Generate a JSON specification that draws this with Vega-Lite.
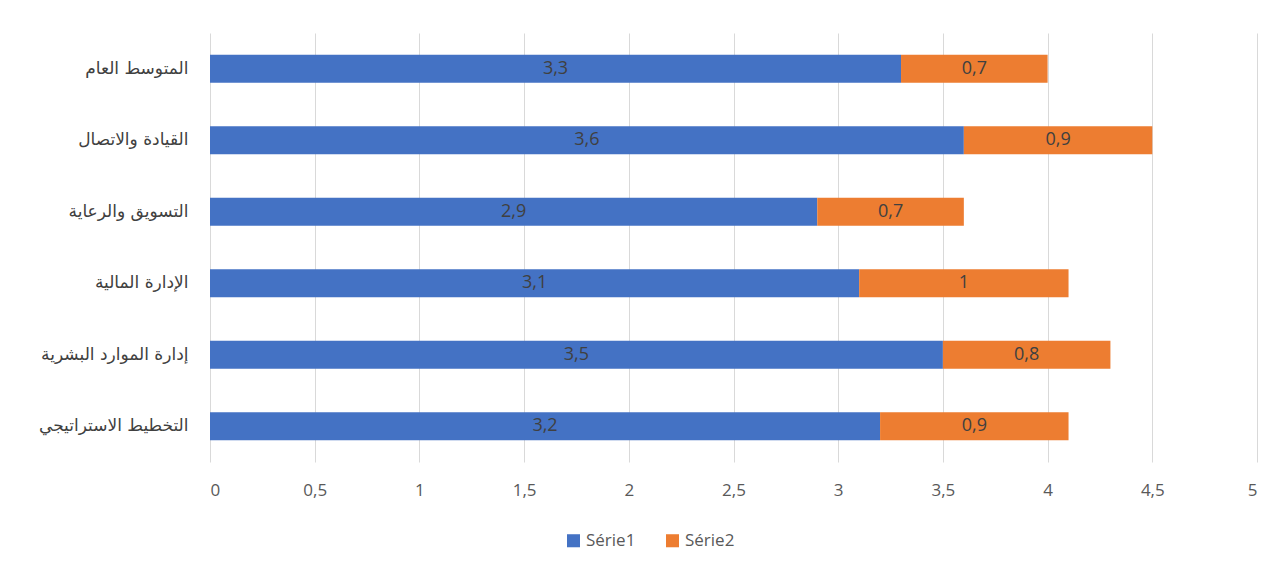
{
  "$schema": "https://vega.github.io/schema/vega-lite/v6.json",
  "autosize": "none",
  "width": 1047,
  "height": 429,
  "padding": {"left": 210, "top": 33, "right": 30, "bottom": 117},
  "background": "white",
  "config": {
    "locale": {"number": {"decimal": ",", "thousands": " ", "grouping": [3], "currency": ["", " €"]}},
    "view": {"stroke": null},
    "font": "Open Sans"
  },
  "data": {
    "values": [
      {"cat": "المتوسط العام", "series": "Série1", "v": 3.3},
      {"cat": "المتوسط العام", "series": "Série2", "v": 0.7},
      {"cat": "القيادة والاتصال", "series": "Série1", "v": 3.6},
      {"cat": "القيادة والاتصال", "series": "Série2", "v": 0.9},
      {"cat": "التسويق والرعاية", "series": "Série1", "v": 2.9},
      {"cat": "التسويق والرعاية", "series": "Série2", "v": 0.7},
      {"cat": "الإدارة المالية", "series": "Série1", "v": 3.1},
      {"cat": "الإدارة المالية", "series": "Série2", "v": 1},
      {"cat": "إدارة الموارد البشرية", "series": "Série1", "v": 3.5},
      {"cat": "إدارة الموارد البشرية", "series": "Série2", "v": 0.8},
      {"cat": "التخطيط الاستراتيجي", "series": "Série1", "v": 3.2},
      {"cat": "التخطيط الاستراتيجي", "series": "Série2", "v": 0.9}
    ]
  },
  "transform": [
    {"stack": "v", "groupby": ["cat"], "sort": [{"field": "series", "order": "ascending"}], "as": ["v0", "v1"]},
    {"calculate": "(datum.v0 + datum.v1) / 2", "as": "mid"}
  ],
  "encoding": {
    "y": {
      "field": "cat",
      "type": "nominal",
      "sort": null,
      "scale": {"paddingInner": 0.61, "paddingOuter": 0.305},
      "axis": {
        "title": null,
        "domain": false,
        "ticks": false,
        "labelFont": "DejaVu Sans",
        "labelFontSize": 17,
        "labelColor": "#404040",
        "labelPadding": 22,
        "labelLimit": 300
      }
    }
  },
  "layer": [
    {
      "mark": {"type": "bar"},
      "encoding": {
        "x": {
          "field": "v0",
          "type": "quantitative",
          "scale": {"domain": [0, 5], "nice": false},
          "axis": {
            "title": null,
            "values": [0, 0.5, 1, 1.5, 2, 2.5, 3, 3.5, 4, 4.5, 5],
            "format": "~r",
            "domain": false,
            "ticks": false,
            "grid": true,
            "gridColor": "#d9d9d9",
            "gridWidth": 1,
            "labelFontSize": 17,
            "labelColor": "#595959",
            "labelPadding": 20
          }
        },
        "x2": {"field": "v1"},
        "color": {
          "field": "series",
          "type": "nominal",
          "scale": {"domain": ["Série1", "Série2"], "range": ["#4472C4", "#ED7D31"]},
          "legend": {
            "title": null,
            "orient": "none",
            "legendX": 355,
            "legendY": 499,
            "direction": "horizontal",
            "symbolType": "square",
            "symbolSize": 170,
            "symbolStrokeWidth": 0,
            "labelFontSize": 17,
            "labelColor": "#595959",
            "columnPadding": 28
          }
        }
      }
    },
    {
      "mark": {"type": "text", "fontSize": 18, "color": "#404040", "baseline": "middle", "align": "center"},
      "encoding": {
        "x": {"field": "mid", "type": "quantitative"},
        "text": {"field": "v", "type": "quantitative", "format": "~r"}
      }
    }
  ]
}
